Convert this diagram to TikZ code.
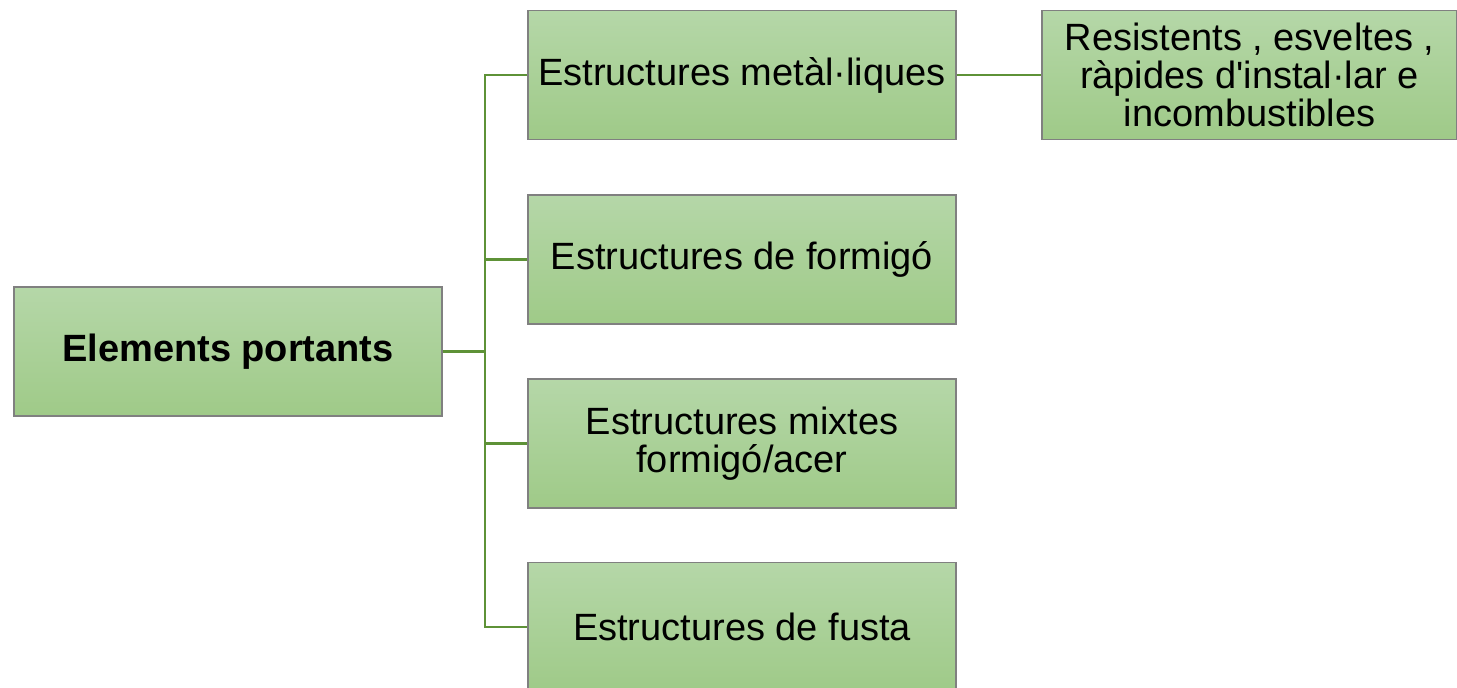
\documentclass[tikz,border=0pt]{standalone}
\usepackage{fontspec}
\setmainfont{Liberation Sans}
\begin{document}
\begin{tikzpicture}[x=1pt,y=-1pt,
  box/.style={draw=black!50, line width=1.2pt, top color=green1, bottom color=green2,
    minimum width=428pt, minimum height=129pt, inner sep=0pt, align=center,
    font=\fontsize{38}{38}\selectfont},
  link/.style={draw=linkgreen, line width=2.4pt}]
\definecolor{green1}{HTML}{B5D7A8}
\definecolor{green2}{HTML}{9FCA88}
\definecolor{linkgreen}{HTML}{5E9237}
\useasboundingbox (0,0) rectangle (1457,688);
\node[box, font=\fontsize{38}{38}\selectfont\bfseries] (root) at (228,351.5) {Elements portants};
\node[box] (c1) at (742,75) {Estructures metàl·liques};
\node[box] (c2) at (742,259.5) {Estructures de formigó};
\node[box] (c3) at (742,443.5) {Estructures mixtes\\formigó/acer};
\node[box] (c4) at (742,627) {Estructures de fusta};
\node[box, minimum width=415pt] (d1) at (1249.5,75) {Resistents , esveltes ,\\ràpides d\textquotesingle instal·lar e\\incombustibles};
\coordinate (j) at (485,351.5);
\draw[link] (root.east) -- (j);
\draw[link] (c1.west) -| (j) |- (c4.west);
\draw[link] (j |- c2.west) -- (c2.west);
\draw[link] (j |- c3.west) -- (c3.west);
\draw[link] (c1.east) -- (d1.west);
\end{tikzpicture}
\end{document}
